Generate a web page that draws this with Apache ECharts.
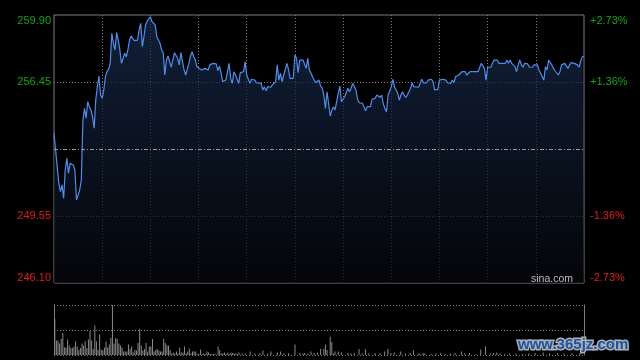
<!DOCTYPE html>
<html><head><meta charset="utf-8">
<script src="https://cdn.jsdelivr.net/npm/echarts@6/dist/echarts.min.js"></script>
<style>html,body{margin:0;padding:0;background:#000;}#c{width:640px;height:360px;}</style>
</head><body><div id="c"></div>
<script>
const PREV = 253.00;
const times = [
0,1,3,4,5,6,7,8,9,10,
11,12,13,14,15,16,17,18,19,20,
21,22,23,24,25,26,27,28,29,30,
31,32,33,34,35,36,37,38,39,40,
41,42,43,44,45,46,47,48,49,50,
51,52,53,54,55,56,57,58,59,60,
61,62,63,64,65,66,67,68,69,70,
71,72,73,74,75,76,77,78,79,80,
81,82,83,84,85,86,87,88,89,90,
92,93,94,95,96,97,98,99,100,101,
102,103,104,105,106,107,108,109,110,111,
112,113,114,115,116,117,118,119,120,121,
122,123,124,125,126,127,129,130,131,132,
133,134,135,136,137,138,139,140,141,142,
143,144,145,146,147,148,149,150,151,152,
153,155,156,157,158,159,160,161,162,163,
164,165,166,167,168,169,170,171,172,173,
174,175,176,177,178,179,180,181,182,183,
184,185,186,187,188,189,190,192,193,194,
195,196,197,198,199,200,201,202,203,204,
205,206,207,208,209,210,211,212,213,214,
215,216,217,218,219,220,221,222,223,224,
225,227,228,229,230,231,232,233,234,235,
236,237,238,239,240,241,242,244,245,247,
248,249,250,251,252,254,256,257,258,259,
261,264,265,266,267,268,269,270,272,273,
274,276,277,279,281,282,283,284,285,286,
287,288,289,290,291,292,293,294,295,296,
298,299,300,301,302,303,304,305,306,307,
308,309,310,311,312,313,314,315,316,317,
318,319,320,321,322,323,324,325,326,327,
328,329,330
];
const prices = [
253.81,252.95,251.23,250.80,251.15,250.46,251.92,252.52,251.75,252.26,
252.35,252.18,251.92,250.37,250.29,250.89,251.40,254.49,255.09,254.58,
255.44,255.18,255.01,254.66,254.07,255.52,256.21,256.76,255.78,255.61,
256.04,256.72,256.98,257.10,257.41,258.96,258.44,258.10,258.99,258.61,
258.10,257.41,257.50,257.93,257.75,258.10,258.61,258.82,258.78,258.58,
258.58,258.61,259.13,259.47,258.27,258.78,259.39,259.59,259.64,259.81,
259.56,259.64,259.39,258.78,258.78,258.44,258.10,257.96,256.81,257.58,
257.79,257.75,257.21,257.21,257.96,258.01,257.67,257.33,257.96,257.50,
257.07,256.81,256.81,257.41,257.79,258.01,257.75,257.58,257.24,257.21,
257.07,256.98,257.15,257.21,257.07,257.33,257.27,257.41,257.41,257.38,
257.03,257.27,256.93,256.47,256.41,256.55,256.98,257.41,256.64,256.38,
256.98,256.81,256.72,256.38,256.93,256.98,256.98,257.50,256.81,256.72,
256.38,256.59,256.59,256.55,256.41,256.41,256.38,256.04,256.21,256.00,
256.21,256.18,256.18,256.30,256.38,256.47,257.33,256.55,256.90,256.47,
256.81,257.10,257.41,257.10,256.64,256.55,256.64,257.84,257.67,256.93,
257.58,257.58,257.50,257.15,257.67,257.07,256.90,256.72,256.55,256.41,
256.38,256.55,256.24,256.13,255.78,255.09,255.95,255.99,254.70,255.01,
255.18,255.01,254.97,255.87,256.24,255.44,255.56,255.69,255.78,256.13,
255.95,256.13,256.38,256.38,256.04,255.56,255.38,255.35,255.18,254.97,
255.18,255.18,255.18,255.56,255.56,255.61,255.78,255.78,255.66,255.78,
255.35,255.09,254.92,255.78,255.87,256.21,256.59,256.21,256.21,255.87,
255.52,255.78,255.95,255.78,255.66,255.78,255.87,256.13,256.41,256.21,
256.18,256.18,256.18,256.59,256.41,256.41,256.41,256.55,256.59,256.59,
256.47,256.04,255.95,256.07,256.55,256.59,256.59,256.55,256.41,256.38,
256.55,256.41,256.72,256.64,256.81,256.98,256.98,256.81,256.81,256.98,
256.98,256.98,257.07,257.41,257.33,257.15,256.55,257.21,257.21,257.41,
257.58,257.58,257.41,257.41,257.41,257.58,257.41,257.58,257.41,257.38,
257.24,256.98,257.33,257.58,257.33,257.21,257.41,257.41,257.38,257.21,
257.21,257.33,257.41,257.33,257.07,256.90,256.72,256.55,257.24,257.07,
257.58,257.45,257.33,257.15,257.03,256.98,256.81,256.98,257.33,257.41,
257.41,257.33,257.15,257.33,257.45,257.55,257.41,257.41,257.33,257.21,
257.55,257.75,257.79
];
const volTimes = [
0,1,2,3,4,5,6,7,8,9,
10,11,12,13,14,15,16,17,18,19,
20,21,22,23,24,25,26,27,28,29,
30,31,32,33,34,35,36,37,38,39,
40,41,42,43,44,45,46,47,48,49,
50,51,52,53,54,55,56,57,58,59,
60,61,62,63,64,65,66,67,68,69,
70,71,72,73,74,75,76,77,78,79,
80,81,82,83,84,85,86,87,88,89,
90,91,92,93,94,95,96,97,98,99,
100,102,103,104,105,106,107,108,109,110,
111,112,113,114,115,117,119,122,125,128,
130,133,135,139,141,143,146,150,153,155,
156,158,160,162,164,166,168,169,170,172,
173,174,175,177,179,183,185,187,190,192,
194,196,200,203,206,208,210,212,216,219,
222,224,227,228,230,231,235,238,241,244,
247,250,254,256,259,263,266,269,272,274,
276,278,281,284,288,292,296,300,305,309,
314,318,323,328
];
const vols = [
72,29,29,23,32,44,15,15,31,19,
14,14,17,27,17,10,14,23,19,27,
14,31,48,29,12,59,27,10,41,11,
9,15,27,15,21,34,100,23,34,32,
23,19,15,7,7,7,21,12,17,5,
10,9,24,52,19,9,12,24,7,17,
17,32,7,10,12,9,7,7,32,24,
19,19,10,3,5,3,7,3,15,5,
5,17,3,7,13,3,7,7,7,2,
2,11,2,3,2,7,5,2,2,2,
2,17,10,3,3,5,2,5,2,5,
4,3,3,2,5,3,3,7,3,3,
9,3,7,5,7,3,4,21,4,3,
4,3,7,4,5,12,12,21,10,37,
26,3,7,7,5,4,3,4,12,3,
12,3,4,3,7,12,4,5,7,3,
4,9,3,2,4,3,2,3,4,2,
3,4,7,3,4,2,11,17,3,4,
5,3,2,3,3,2,3,4,5,3,
4,3,3,4
];
const priceTickLabels = ['246.10','249.55','','256.45','259.90'];
const pctTickLabels = ['-2.73%','-1.36%','','+1.36%','+2.73%'];
const SPAN = 6.9, STEP = 3.45;

const GREEN = '#17a317', RED = '#e21c1c', GRID = '#7d7d7d';
const rich = {
  gt: {color: GREEN, fontSize: 11, fontFamily: 'Liberation Sans, Arial', padding: [11,0,0,0]},
  g:  {color: GREEN, fontSize: 11, fontFamily: 'Liberation Sans, Arial'},
  r:  {color: RED, fontSize: 11, fontFamily: 'Liberation Sans, Arial'},
  rb: {color: RED, fontSize: 11, fontFamily: 'Liberation Sans, Arial', padding: [0,0,10,0]}
};
const styleKeys = ['rb','r','','g','gt'];
function fmt(labels){
  return function(v){
    const i = Math.round((v + SPAN) / STEP);
    if (!labels[i]) return '';
    return '{' + styleKeys[i] + '|' + labels[i] + '}';
  };
}
const xSplit = ['transparent'].concat(new Array(10).fill(GRID)).concat(['transparent']);

const chart = echarts.init(document.getElementById('c'), null, {renderer: 'canvas'});
chart.setOption({
  animation: false,
  backgroundColor: '#000',
  grid: [
    {left: 54, top: 15, width: 530, height: 268, show: true, borderColor: GRID, borderWidth: 1, backgroundColor: 'transparent'},
    {left: 54, top: 305, width: 530, height: 50}
  ],
  xAxis: [
    {type: 'value', gridIndex: 0, min: 0, max: 330, interval: 30,
     axisLine: {show: false}, axisTick: {show: false}, axisLabel: {show: false},
     splitLine: {show: true, lineStyle: {color: xSplit, type: [1,2], width: 1}}},
    {type: 'value', gridIndex: 1, min: -0.5, max: 330.5, show: false}
  ],
  yAxis: [
    {type: 'value', gridIndex: 0, min: -SPAN, max: SPAN, interval: STEP,
     axisLine: {show: false}, axisTick: {show: false},
     splitLine: {show: true, lineStyle: {color: ['transparent', GRID, 'transparent', GRID, 'transparent'], type: [1,2], width: 1}},
     axisLabel: {margin: 3, formatter: fmt(priceTickLabels), rich: rich}},
    {type: 'value', gridIndex: 0, position: 'right', min: -SPAN, max: SPAN, interval: STEP,
     axisLine: {show: false}, axisTick: {show: false}, splitLine: {show: false},
     axisLabel: {margin: 6, formatter: fmt(pctTickLabels), rich: rich}},
    {type: 'value', gridIndex: 1, min: 0, max: 100, interval: 50,
     axisLine: {show: true, onZero: false, lineStyle: {color: GRID, width: 1}},
     axisTick: {show: false}, axisLabel: {show: false},
     splitLine: {show: true, lineStyle: {color: GRID, type: [1,2], width: 1}}},
    {type: 'value', gridIndex: 1, position: 'right', min: 0, max: 100, interval: 50,
     axisLine: {show: true, onZero: false, lineStyle: {color: GRID, width: 1}},
     axisTick: {show: false}, axisLabel: {show: false}, splitLine: {show: false}}
  ],
  series: [
    {type: 'line', xAxisIndex: 0, yAxisIndex: 0,
     data: times.map((t, i) => [t, +(prices[i] - PREV).toFixed(4)]),
     showSymbol: false, symbol: 'none', smooth: false,
     lineStyle: {color: '#4f8de9', width: 1.2},
     areaStyle: {origin: 'start', color: new echarts.graphic.LinearGradient(0, 0, 0, 1, [
       {offset: 0, color: 'rgb(25,44,80)'}, {offset: 1, color: 'rgb(5,7,12)'}])},
     markLine: {silent: true, symbol: ['none', 'none'], label: {show: false},
       lineStyle: {color: '#9a9a9a', type: [4,2,1,2], width: 1},
       data: [{yAxis: 0}]},
     z: 3},
    {type: 'bar', xAxisIndex: 1, yAxisIndex: 2,
     data: volTimes.map((t, i) => [t, vols[i]]),
     barWidth: 1, itemStyle: {color: '#8a8a8a'}}
  ],
  graphic: [
    {type: 'text', x: 573, y: 279, z: 10,
     style: {text: 'sina.com', fill: '#bdbdbd', font: '10.5px "Liberation Sans", Arial', align: 'right', verticalAlign: 'middle'}},
    {type: 'text', x: 518, y: 345, z: 10,
     style: {text: 'www.365jz.com', fill: '#21509e', stroke: '#a9b1b9', lineWidth: 3,
             font: 'bold 15px "Liberation Sans", Arial', align: 'left', verticalAlign: 'middle'}}
  ]
});
</script></body></html>
